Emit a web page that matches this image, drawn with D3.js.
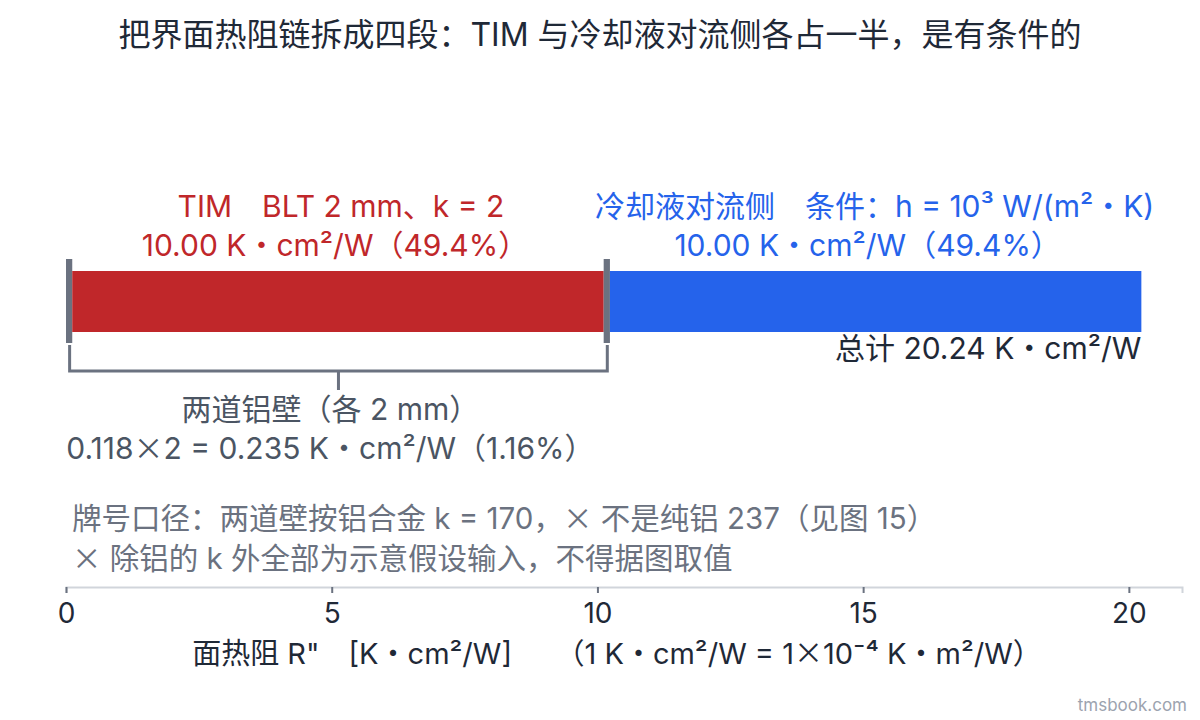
<!DOCTYPE html>
<html>
<head>
<meta charset="utf-8">
<script src="https://cdn.jsdelivr.net/npm/d3@7"></script>
<style>
body { margin: 0; background: #fff; }
svg text { font-family: Inter, "Noto Sans CJK SC", sans-serif; }
svg tspan.cjk { font-family: "Noto Sans CJK SC", sans-serif; }
</style>
</head>
<body>
<div id="chart"></div>
<script>
// 四段热阻（K·cm²/W），铝壁 = 2 mm / 170 W/(m·K)
var segments = ["铝壁", "TIM", "铝壁", "冷却液对流侧"];
var values = [0.1176, 10.0, 0.1176, 10.0];
var colors = ["#6b7280", "#c0272a", "#6b7280", "#2563eb"];
var ticks = [0, 5, 10, 15, 20];

// 文字里的 × 用 CJK 字形
function addText(sel, parts) {
    parts.forEach(function(p) {
        if (p === "×") sel.append("tspan").attr("class", "cjk").text(p);
        else sel.append("tspan").text(p);
    });
    return sel;
}

function init() {
var w = 1200;
var h = 720;

var svg = d3.select("#chart")
            .append("svg")
            .attr("width", w)
            .attr("height", h);

var x = d3.scaleLinear().domain([0, 21]).range([66, 1182]);

// 累积起点
var starts = [];
var acc = 0;
values.forEach(function(v) { starts.push(acc); acc += v; });
var total = acc;

svg.append("text")
    .attr("x", 600).attr("y", 46)
    .attr("text-anchor", "middle")
    .attr("font-size", 32)
    .attr("fill", "#1f2937")
    .text("把界面热阻链拆成四段：TIM 与冷却液对流侧各占一半，是有条件的");

var barY = 271, barH = 61;

svg.selectAll("rect.seg")
    .data(values)
    .enter()
    .append("rect")
    .attr("class", "seg")
    .attr("x", function(d, i) { return x(starts[i]); })
    .attr("width", function(d) { return x(d) - x(0); })
    .attr("y", function(d, i) { return segments[i] === "铝壁" ? barY - 12 : barY; })
    .attr("height", function(d, i) { return segments[i] === "铝壁" ? barH + 23 : barH; })
    .attr("fill", function(d, i) { return colors[i]; });

// TIM 标注
var timMid = x(starts[1] + values[1] / 2);
var pct = function(v) { return (v / total * 100).toFixed(1) + "%"; };
svg.append("text")
    .attr("x", timMid + 3).attr("y", 217)
    .attr("text-anchor", "middle").attr("font-size", 30).attr("fill", colors[1])
    .text("TIM　BLT 2 mm、k = 2");
svg.append("text")
    .attr("x", timMid - 3).attr("y", 256)
    .attr("text-anchor", "middle").attr("font-size", 30).attr("fill", colors[1])
    .text(values[1].toFixed(2) + " K・cm²/W（" + pct(values[1]) + "）");

// 冷却液标注
var coolMid = x(starts[3] + values[3] / 2);
svg.append("text")
    .attr("x", coolMid - 1).attr("y", 217)
    .attr("text-anchor", "middle").attr("font-size", 30).attr("fill", colors[3])
    .text("冷却液对流侧　条件：h = 10³ W/(m²・K)");
svg.append("text")
    .attr("x", coolMid - 8).attr("y", 256)
    .attr("text-anchor", "middle").attr("font-size", 30).attr("fill", colors[3])
    .text(values[3].toFixed(2) + " K・cm²/W（" + pct(values[3]) + "）");

svg.append("text")
    .attr("x", x(total)).attr("y", 359)
    .attr("text-anchor", "end").attr("font-size", 30).attr("fill", "#1f2937")
    .text("总计 " + total.toFixed(2) + " K・cm²/W");

// 两道铝壁括号
var bx0 = x(starts[0] + values[0] / 2) + 0.5;
var bx1 = x(starts[2] + values[2] / 2) + 0.5;
var bmid = (bx0 + bx1) / 2;
svg.append("path")
    .attr("d", "M" + bx0 + ",345 V371 H" + bx1 + " V345 M" + bmid + ",371 V390")
    .attr("fill", "none").attr("stroke", "#6b7280").attr("stroke-width", 3);

var wallSum = values[0] + values[2];
svg.append("text")
    .attr("x", bmid - 8).attr("y", 420)
    .attr("text-anchor", "middle").attr("font-size", 30).attr("fill", "#4b5563")
    .text("两道铝壁（各 2 mm）");
addText(svg.append("text")
    .attr("x", bmid - 8).attr("y", 459)
    .attr("text-anchor", "middle").attr("font-size", 30).attr("fill", "#4b5563"),
    [values[0].toFixed(3), "×", "2 = " + wallSum.toFixed(3) + " K・cm²/W（" + (wallSum / total * 100).toFixed(2) + "%）"]);

addText(svg.append("text")
    .attr("x", 72).attr("y", 529)
    .attr("font-size", 29.5).attr("fill", "#6b7280"),
    ["牌号口径：两道壁按铝合金 k = 170，", "×", " 不是纯铝 237（见图 15）"]);
addText(svg.append("text")
    .attr("x", 72).attr("y", 569)
    .attr("font-size", 29.5).attr("fill", "#6b7280"),
    ["×", " 除铝的 k 外全部为示意假设输入，不得据图取值"]);

// x 轴
var axis = svg.append("g")
    .attr("transform", "translate(0,587)")
    .call(d3.axisBottom(x).tickValues(ticks).tickSize(6).tickPadding(10));
axis.select(".domain").attr("stroke", "#d1d5db").attr("stroke-width", 2);
axis.selectAll(".tick line").attr("stroke", "#6b7280").attr("stroke-width", 2);
axis.selectAll(".tick text")
    .attr("font-size", 28).attr("fill", "#1f2937")
    .style("font-family", "Inter, 'Noto Sans CJK SC', sans-serif");

addText(svg.append("text")
    .attr("x", 617).attr("y", 664)
    .attr("text-anchor", "middle").attr("font-size", 29).attr("fill", "#1f2937"),
    ["面热阻 R\"　[K・cm²/W]　　（1 K・cm²/W = 1", "×", "10⁻⁴ K・m²/W）"]);

svg.append("text")
    .attr("x", 1187).attr("y", 711)
    .attr("text-anchor", "end").attr("font-size", 17).attr("fill", "#9ca3af")
    .text("tmsbook.com");
}

window.onload = init;
</script>
</body>
</html>
